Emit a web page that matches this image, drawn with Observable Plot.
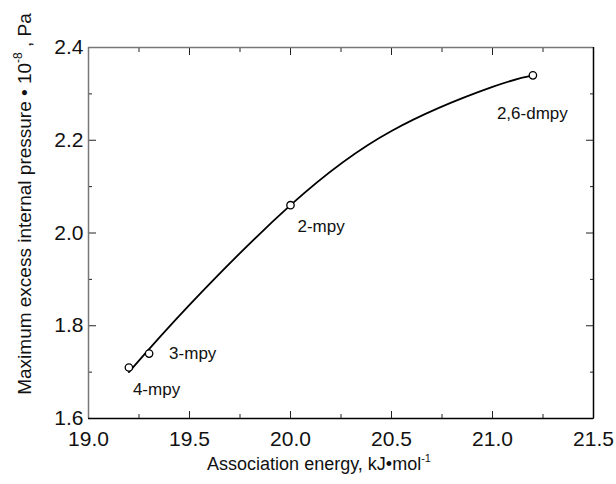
<!DOCTYPE html>
<html><head><meta charset="utf-8">
<script src="https://cdn.jsdelivr.net/npm/d3@7"></script>
<script src="https://cdn.jsdelivr.net/npm/@observablehq/plot@0.6"></script>
<style>
body{margin:0;background:#fff}
#chart svg{font-family:"Liberation Sans",Arial,sans-serif}
</style>
</head><body><div id="chart"></div>
<script>
// measured points
const compounds = ["4-mpy", "3-mpy", "2-mpy", "2,6-dmpy"];
const energy = [19.2, 19.3, 20.0, 21.2];
const pressure = [1.71, 1.74, 2.06, 2.34];
// fitted curve as drawn in the reference
const fitEnergy = [19.2, 19.5, 20.0, 20.5, 21.0, 21.2];
const fitPressure = [1.70, 1.845, 2.06, 2.22, 2.315, 2.34];
const xTicks = [19.0, 19.5, 20.0, 20.5, 21.0, 21.5];
const xMinorTicks = [19.25, 19.75, 20.25, 20.75, 21.25];
const yTicks = [1.6, 1.8, 2.0, 2.2, 2.4];
const yMinorTicks = [1.7, 1.9, 2.1, 2.3];
const xDomain = [19.0, 21.5];
const yDomain = [1.6, 2.4];
const xTitle = ["Association energy, kJ\u2022mol", "-1"];
const yTitle = ["Maximum excess internal pressure \u2022 10", "-8", " , Pa"];

const data = compounds.map((c, i) => ({compound: c, energy: energy[i], pressure: pressure[i]}));
const fit = fitEnergy.map((e, i) => ({energy: e, pressure: fitPressure[i]}));
const labelOffsets = {"4-mpy": [4, 22], "3-mpy": [20, 0], "2-mpy": [7, 21], "2,6-dmpy": [-36, 38]};

const W = 616, H = 484, ML = 88, MR = 23, MT = 47, MB = 66;
const fmt = d => d.toFixed(1);

const plot = Plot.plot({
  width: W, height: H,
  marginLeft: ML, marginRight: MR, marginTop: MT, marginBottom: MB,
  x: {domain: xDomain, label: null},
  y: {domain: yDomain, label: null},
  style: {fontFamily: "'Liberation Sans', Arial, sans-serif", fontSize: "21px", color: "#000", background: "#fff", overflow: "visible"},
  marks: [
    // inward ticks
    Plot.axisX(xTicks, {anchor: "bottom", tickSize: 7, dy: -7, fill: "none", stroke: "#222", label: null}),
    Plot.axisX(xMinorTicks, {anchor: "bottom", tickSize: 4, dy: -4, fill: "none", stroke: "#222", label: null}),
    Plot.axisX(xTicks, {anchor: "top", tickSize: 7, dy: 7, fill: "none", stroke: "#222", label: null}),
    Plot.axisX(xMinorTicks, {anchor: "top", tickSize: 4, dy: 4, fill: "none", stroke: "#222", label: null}),
    Plot.axisY(yTicks, {anchor: "left", tickSize: 8, dx: 8, fill: "none", stroke: "#222", label: null}),
    Plot.axisY(yMinorTicks, {anchor: "left", tickSize: 4, dx: 4, fill: "none", stroke: "#222", label: null}),
    Plot.axisY(yTicks, {anchor: "right", tickSize: 8, dx: -8, fill: "none", stroke: "#222", label: null}),
    Plot.axisY(yMinorTicks, {anchor: "right", tickSize: 4, dx: -4, fill: "none", stroke: "#222", label: null}),
    // tick labels
    Plot.axisX(xTicks, {anchor: "bottom", tickSize: 0, tickPadding: 13, tickFormat: fmt, fontSize: 21, fill: "#111", label: null}),
    Plot.axisY(yTicks, {anchor: "left", tickSize: 0, tickPadding: 5, tickFormat: fmt, fontSize: 21, fill: "#111", label: null}),
    // frame
    Plot.ruleX([xDomain[0]], {stroke: "#777", strokeWidth: 1.5}),
    Plot.ruleY([yDomain[1]], {stroke: "#777", strokeWidth: 1.5}),
    Plot.ruleX([xDomain[1]], {stroke: "#000", strokeWidth: 1.5}),
    Plot.ruleY([yDomain[0]], {stroke: "#000", strokeWidth: 1.5}),
    // fitted curve and points
    Plot.line(fit, {x: "energy", y: "pressure", curve: "natural", stroke: "#000", strokeWidth: 1.8}),
    Plot.dot(data, {x: "energy", y: "pressure", r: 3.7, fill: "#fff", stroke: "#000", strokeWidth: 1.3}),
    ...compounds.map(c => Plot.text(data.filter(d => d.compound === c), {
      x: "energy", y: "pressure", text: "compound",
      dx: labelOffsets[c][0], dy: labelOffsets[c][1],
      textAnchor: "start", fontSize: 17, fill: "#111"
    }))
  ]
});

document.getElementById("chart").appendChild(plot);

// axis titles with superscripts
const svg = d3.select(plot);
const xt = svg.append("text")
  .attr("x", 319).attr("y", 470)
  .attr("text-anchor", "middle")
  .attr("font-size", 18).attr("fill", "#111");
xt.append("tspan").text(xTitle[0]);
xt.append("tspan").attr("font-size", 11).attr("dy", -8).text(xTitle[1]);

const yt = svg.append("text")
  .attr("transform", "translate(31,204) rotate(-90)")
  .attr("text-anchor", "middle")
  .attr("font-size", 19).attr("fill", "#111");
yt.append("tspan").text(yTitle[0]);
yt.append("tspan").attr("font-size", 12).attr("dy", -9).text(yTitle[1]);
yt.append("tspan").attr("dy", 9).text(yTitle[2]);
</script>
</body></html>
